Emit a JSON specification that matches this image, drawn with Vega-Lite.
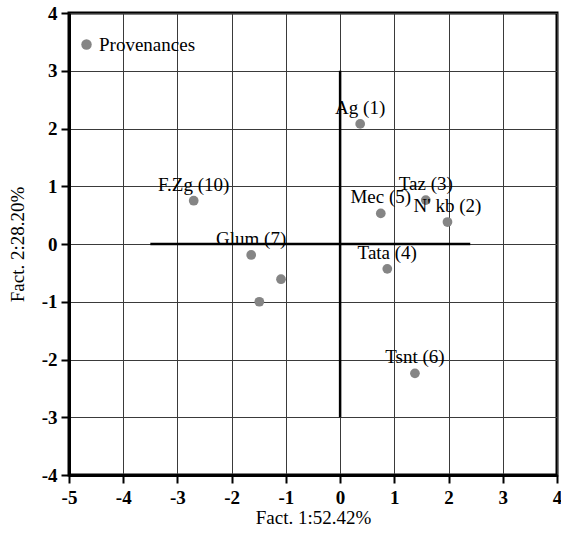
{
  "$schema": "https://vega.github.io/schema/vega-lite/v6.json",
  "width": 488,
  "height": 462,
  "autosize": {"type": "none"},
  "padding": {"left": 69, "top": 13, "right": 4, "bottom": 67},
  "background": "white",
  "config": {
    "view": {"stroke": "black", "strokeWidth": 3},
    "font": "Liberation Serif",
    "axis": {
      "labelFont": "Liberation Serif",
      "labelFontSize": 19,
      "labelFontWeight": "bold",
      "labelColor": "black",
      "titleFont": "Liberation Serif",
      "titleFontSize": 19,
      "titleFontWeight": "normal",
      "titleColor": "black",
      "grid": true,
      "gridColor": "#3a3a3a",
      "gridWidth": 1,
      "domainColor": "black",
      "domainWidth": 3,
      "tickColor": "black",
      "tickWidth": 2,
      "tickSize": 8
    }
  },
  "datasets": {
    "pts": [
      {"name": "Ag (1)", "f1": 0.37, "f2": 2.08, "group": "Provenances"},
      {"name": "N' kb (2)", "f1": 1.98, "f2": 0.38, "group": "Provenances"},
      {"name": "Taz (3)", "f1": 1.58, "f2": 0.76, "group": "Provenances"},
      {"name": "Tata (4)", "f1": 0.87, "f2": -0.43, "group": "Provenances"},
      {"name": "Mec (5)", "f1": 0.75, "f2": 0.53, "group": "Provenances"},
      {"name": "Tsnt (6)", "f1": 1.38, "f2": -2.24, "group": "Provenances"},
      {"name": "Glum (7)", "f1": -1.64, "f2": -0.19, "group": "Provenances"},
      {"name": "", "f1": -1.09, "f2": -0.61, "group": "Provenances"},
      {"name": "", "f1": -1.49, "f2": -1.0, "group": "Provenances"},
      {"name": "F.Zg (10)", "f1": -2.7, "f2": 0.75, "group": "Provenances"}
    ],
    "cross": [
      {"x": -3.5, "x2": 2.4, "y": 0, "y2": 0},
      {"x": 0, "x2": 0, "y": 3, "y2": -3}
    ]
  },
  "layer": [
    {
      "data": {"name": "cross"},
      "mark": {"type": "rule", "color": "black", "strokeWidth": 2.5},
      "encoding": {
        "x": {"field": "x", "type": "quantitative",
          "scale": {"domain": [-5, 4], "nice": false, "zero": false},
          "axis": {"values": [-5, -4, -3, -2, -1, 0, 1, 2, 3, 4], "labelExpr": "toString(datum.value)", "title": "Fact. 1:52.42%", "labelPadding": 5, "titlePadding": 1, "labelFlush": false}},
        "x2": {"field": "x2"},
        "y": {"field": "y", "type": "quantitative",
          "scale": {"domain": [-4, 4], "nice": false, "zero": false},
          "axis": {"values": [-4, -3, -2, -1, 0, 1, 2, 3, 4], "labelExpr": "toString(datum.value)", "title": "Fact. 2:28.20%", "labelPadding": 4, "titleX": -42, "labelFlush": false}},
        "y2": {"field": "y2"}
      }
    },
    {
      "data": {"name": "pts"},
      "mark": {"type": "point", "filled": true, "size": 95, "opacity": 1},
      "encoding": {
        "x": {"field": "f1", "type": "quantitative"},
        "y": {"field": "f2", "type": "quantitative"},
        "color": {"field": "group", "type": "nominal",
          "scale": {"range": ["#858585"]},
          "legend": {"title": null, "orient": "none", "legendX": 8, "legendY": 22,
            "symbolType": "circle", "symbolSize": 110, "symbolStrokeWidth": 0,
            "labelFont": "Liberation Serif", "labelFontSize": 19, "labelColor": "black", "labelOffset": 3}}
      }
    },
    {
      "data": {"name": "pts"},
      "mark": {"type": "text", "font": "Liberation Serif", "fontSize": 19, "color": "black", "dy": -16, "align": "center", "baseline": "middle"},
      "encoding": {
        "x": {"field": "f1", "type": "quantitative"},
        "y": {"field": "f2", "type": "quantitative"},
        "text": {"field": "name"}
      }
    }
  ]
}
